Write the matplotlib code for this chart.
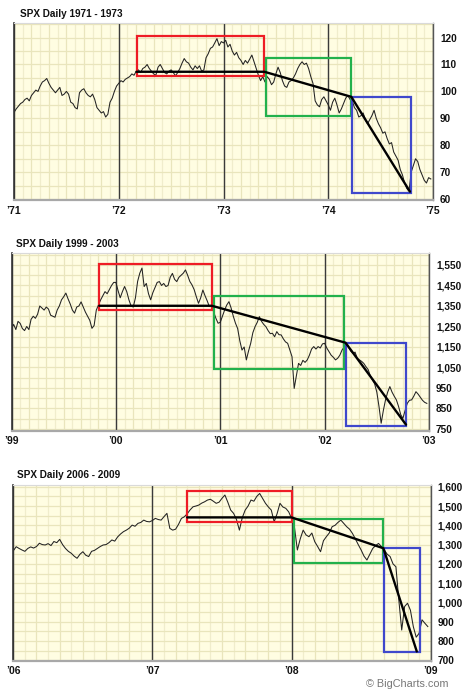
import numpy as np
import matplotlib.pyplot as plt
from matplotlib.patches import Rectangle
from matplotlib.ticker import FuncFormatter

# SPX closes, four points per month
spx_7174 = [
    92.2, 93.5, 94.5, 95.5, 96.0, 97.0, 97.5, 96.5, 98.5, 99.5, 100.5, 100.0,
    102.0, 103.5, 104.0, 104.8, 103.0, 101.5, 100.5, 99.5, 100.5, 101.5, 98.5, 99.0,
    100.0, 99.0, 96.0, 95.5, 94.0, 93.5, 99.5, 100.5, 101.0, 99.5, 98.5, 98.0,
    99.0, 97.0, 94.0, 93.0, 92.0, 92.5, 90.5, 91.5, 96.0, 97.5, 100.0, 102.0,
    103.0, 104.0, 103.5, 104.5, 105.0, 105.5, 106.5, 106.0, 107.5, 108.0, 107.0, 108.5,
    109.0, 110.0, 108.5, 107.5, 106.5, 106.0, 109.0, 110.0, 108.5, 107.0, 106.5, 107.5,
    108.0, 107.0, 105.8, 107.0, 108.5, 110.5, 112.2, 111.0, 110.5, 109.0, 108.0, 109.5,
    108.5, 109.5, 107.5, 108.0, 112.5, 114.0, 116.0, 116.5, 118.0, 119.6, 117.0, 118.5,
    118.0, 119.0, 116.5, 117.5, 115.0, 113.5, 114.5, 112.5, 111.5, 110.0, 111.5, 110.5,
    112.0, 113.5, 111.0, 108.5, 106.0, 104.0, 105.5, 103.5, 105.5, 104.5, 102.5, 103.5,
    106.5, 109.0, 107.0, 104.0, 102.0, 101.5, 103.5, 104.0, 105.0, 106.5, 108.5, 110.0,
    111.0, 110.0, 110.5, 108.5, 105.5, 103.0, 96.5, 95.0, 94.3, 97.0, 98.0, 96.5,
    95.0, 93.0, 96.0, 97.5, 95.0, 92.0, 93.5, 95.5, 97.5, 98.5, 97.0, 96.5,
    94.0, 93.0, 90.5, 91.0, 92.0, 89.5, 88.0, 89.5, 91.0, 93.0, 90.0, 88.0,
    86.5, 84.5, 85.0, 82.5, 80.5, 81.0, 77.5, 76.0, 74.5, 71.0, 69.0, 66.0,
    64.0, 63.0, 70.0, 72.5, 75.0, 74.0, 71.0, 69.0, 67.0, 66.0, 68.0, 67.5,
]
spx_9902 = [
    1240, 1260, 1235, 1275, 1265, 1240, 1230, 1250, 1235, 1285, 1300, 1290,
    1310, 1350, 1340, 1330, 1345, 1335, 1305, 1300, 1295, 1330, 1350, 1380,
    1395, 1413, 1385, 1360, 1330, 1315, 1345, 1350, 1370, 1345, 1320, 1300,
    1280, 1241, 1255, 1330, 1355, 1380, 1400, 1420, 1410, 1430, 1450, 1465,
    1465, 1425, 1390, 1420, 1445, 1420, 1380, 1350, 1345, 1390, 1470, 1510,
    1535, 1445, 1460, 1410, 1380, 1415, 1440, 1465, 1469, 1450, 1460, 1445,
    1450, 1490, 1509, 1480, 1469, 1490, 1500, 1510, 1526, 1500, 1470, 1453,
    1430, 1395, 1363, 1390, 1428, 1400, 1375, 1347, 1355, 1320, 1290, 1266,
    1270, 1300, 1330, 1355, 1371, 1340, 1300, 1266, 1240, 1180, 1135, 1150,
    1087, 1130, 1168, 1220, 1249, 1270, 1298, 1275, 1260, 1249, 1230, 1215,
    1217, 1200, 1225, 1210, 1209, 1190, 1175, 1168, 1135, 1103, 948, 1010,
    1070, 1060, 1085, 1075, 1087, 1110, 1140, 1152, 1140, 1152, 1145, 1165,
    1168, 1145, 1127, 1110, 1100, 1087, 1095, 1110, 1135, 1150, 1168, 1150,
    1130, 1119, 1125, 1095, 1087, 1080, 1070, 1054, 1040, 1010, 989, 970,
    930, 860, 778, 840, 892, 930, 957, 930, 910, 892, 860, 820,
    802, 840, 875, 890, 892, 910, 932, 920, 905, 890, 880, 875,
]
spx_0608 = [
    1268, 1289, 1280, 1272, 1265, 1280, 1288, 1282, 1290, 1307, 1300, 1298,
    1305, 1295, 1316, 1310, 1327, 1300, 1280, 1265, 1255, 1240, 1229, 1250,
    1263, 1245, 1238, 1265, 1270, 1280, 1290, 1298, 1300, 1310, 1324, 1318,
    1340, 1355, 1367, 1375, 1385, 1401, 1395, 1410, 1415, 1427, 1420, 1418,
    1425, 1436, 1430, 1427, 1445, 1462, 1384, 1375, 1380, 1405, 1436, 1444,
    1460, 1480, 1496, 1500, 1505, 1515, 1522, 1531, 1535, 1525, 1514, 1520,
    1540, 1557, 1520, 1479, 1462, 1430, 1375, 1440, 1479, 1500, 1531, 1525,
    1550, 1565, 1540, 1514, 1495, 1479, 1418, 1460, 1514, 1495, 1488, 1470,
    1436, 1390, 1272, 1330, 1375, 1350, 1341, 1360, 1315, 1290, 1263, 1320,
    1341, 1360, 1393, 1400, 1415, 1427, 1410, 1393, 1380, 1358, 1330, 1300,
    1272, 1240, 1220, 1250, 1280, 1295, 1306, 1290, 1272, 1250, 1238, 1200,
    1185, 1013, 857, 979, 996, 960, 875, 820, 840, 910, 892, 875,
]

# boxes (start, end, low, high) and trend lines
red_7174 = (1972.17, 1973.39, 105.7, 120.5)
green_7174 = (1973.41, 1974.22, 90.9, 112.5)
blue_7174 = (1974.23, 1974.79, 62.2, 98.0)
trend_x_7174 = [1972.17, 1973.39, 1974.22, 1974.78]
trend_y_7174 = [107.3, 107.3, 98.0, 62.8]

red_9902 = (1999.84, 2000.92, 1330, 1553)
green_9902 = (2000.94, 2002.19, 1042, 1400)
blue_9902 = (2002.20, 2002.78, 766, 1171)
trend_x_9902 = [1999.84, 2000.92, 2002.20, 2002.78]
trend_y_9902 = [1351, 1351, 1171, 771]

red_0608 = (2007.25, 2008.0, 1415, 1579)
green_0608 = (2008.02, 2008.66, 1204, 1432)
blue_0608 = (2008.667, 2008.92, 743, 1284)
trend_x_0608 = [2007.25, 2008.0, 2008.66, 2008.90]
trend_y_0608 = [1441, 1441, 1281, 746]

W, H = 466, 700
fig = plt.figure(figsize=(W / 100, H / 100), dpi=100)
fig.patch.set_facecolor("white")


def make_axes(left, top, right, bottom):
    return fig.add_axes([left / W, 1 - bottom / H, (right - left) / W, (bottom - top) / H])


def draw_panel(ax, start, closes, nyears, ylim, yticks, ystep, boxes, tx, ty, comma):
    x = start + np.arange(len(closes)) / 48.0
    ax.set_facecolor("#FFFDE2")
    ax.set_xlim(start, start + nyears)
    ax.set_ylim(*ylim)

    # monthly / price grid
    months = start + np.arange(0, nyears * 12 + 1) / 12.0
    for i, m in enumerate(months):
        ax.axvline(m, color="#E9E5BC" if i % 2 == 0 else "#F0EDCC", lw=0.9, zorder=0)
    for v in np.arange(np.ceil(ylim[0] / ystep) * ystep, ylim[1], ystep):
        ax.axhline(v, color="#E9E5BC", lw=0.9, zorder=0)
    for yr in range(start, start + nyears + 1):
        ax.axvline(yr, color="#3A3A3A", lw=1.0, zorder=1)

    ax.plot(x, closes, color="#222222", lw=0.75, zorder=2)

    for (x0, x1, y0, y1), col in zip(boxes, ["#EE1C25", "#22B14C", "#3F48CC"]):
        ax.add_patch(Rectangle((x0, y0), x1 - x0, y1 - y0, fill=False,
                               edgecolor=col, lw=1.6, zorder=3))
    ax.plot(tx, ty, color="black", lw=1.7, zorder=4, solid_capstyle="round")

    ax.set_xticks(range(start, start + nyears + 1))
    ax.set_xticklabels(["\u2019%02d" % (yr % 100) for yr in range(start, start + nyears + 1)],
                       fontfamily="Liberation Sans", fontweight="bold", fontsize=7.5)
    ax.yaxis.tick_right()
    ax.set_yticks(yticks)
    if comma:
        ax.yaxis.set_major_formatter(FuncFormatter(lambda v, p: f"{v:,.0f}"))
    for lab in ax.get_yticklabels():
        lab.set_fontfamily("Liberation Sans")
        lab.set_fontweight("bold")
        lab.set_fontsize(7.2)
    ax.tick_params(axis="both", length=0, colors="#111111")
    ax.tick_params(axis="x", pad=4)
    ax.tick_params(axis="y", pad=5)

    ax.spines["top"].set_color("#DADADA")
    ax.spines["bottom"].set_color("#A8A8A8")
    ax.spines["bottom"].set_linewidth(1.6)
    ax.spines["left"].set_color("#333333")
    ax.spines["left"].set_linewidth(1.2)
    ax.spines["right"].set_color("#555555")
    ax.spines["right"].set_linewidth(1.0)


ax1 = make_axes(14, 23, 433, 200)
draw_panel(ax1, 1971, spx_7174, 4, (59.7, 125.4), range(60, 121, 10), 5,
           [red_7174, green_7174, blue_7174], trend_x_7174, trend_y_7174, False)

ax2 = make_axes(11.5, 253.3, 429, 430.7)
draw_panel(ax2, 1999, spx_9902, 4, (741.7, 1607), range(750, 1551, 100), 50,
           [red_9902, green_9902, blue_9902], trend_x_9902, trend_y_9902, True)

ax3 = make_axes(13.3, 485, 430.7, 660.7)
draw_panel(ax3, 2006, spx_0608, 3, (698, 1609), range(700, 1601, 100), 50,
           [red_0608, green_0608, blue_0608], trend_x_0608, trend_y_0608, True)

titles = [("SPX Daily 1971 - 1973", 20, 14), ("SPX Daily 1999 - 2003", 16, 244),
          ("SPX Daily 2006 - 2009", 17.3, 475)]
for txt, tx_, ty_ in titles:
    fig.text(tx_ / W, 1 - ty_ / H, txt, fontfamily="Liberation Sans", fontweight="bold",
             fontsize=7.2, ha="left", va="center", color="#111111")

fig.text(448 / W, 1 - 684 / H, "\u00a9 BigCharts.com", fontfamily="Liberation Sans",
         fontsize=7.8, ha="right", va="center", color="#777777")

fig.savefig("out.png", dpi=100)
